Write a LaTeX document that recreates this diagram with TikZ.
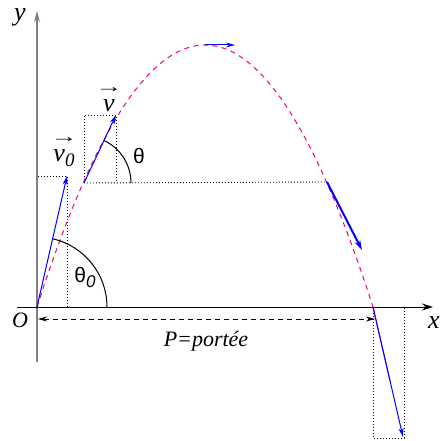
\documentclass[tikz,border=0pt]{standalone}
\usepackage{fontspec}
\setmainfont{Liberation Serif}
\newfontfamily\symfont{Liberation Sans}
\usetikzlibrary{arrows.meta}
\newcommand{\vecarrow}{{\upshape\fontsize{20}{20}\selectfont\scalebox{1.35}[0.85]{→}}}
\begin{document}
\begin{tikzpicture}[x=1pt,y=-1pt,
  axisy/.style={draw=black!50,line width=1.3pt,-{Stealth[length=11pt,width=6pt]}},
  axisx/.style={draw=black,line width=1pt,-{Stealth[length=11pt,width=7pt]}},
  vel/.style={draw=blue,line width=1pt,-{Stealth[length=9pt,width=5pt]}},
  velthick/.style={draw=blue,line width=2pt,-{Stealth[length=10pt,width=6pt]}},
  dots/.style={draw=black,line width=0.9pt,dash pattern=on 0.9pt off 2.1pt},
  traj/.style={draw=magenta,line width=1pt,dash pattern=on 5pt off 4.5pt},
  lbl/.style={font=\fontsize{22}{24}\selectfont\itshape,inner sep=0pt},
  vlbl/.style={font=\fontsize{26}{26}\selectfont\itshape,inner sep=0pt},
  ang/.style={font=\fontsize{21}{24}\symfont,inner sep=0pt},
  arcline/.style={draw=black,line width=1pt}]
\useasboundingbox (0,0) rectangle (445,441);
% key points
\coordinate (O) at (37,307);
\coordinate (Ytop) at (37,11);
\coordinate (Ybot) at (37,362);
\coordinate (Xl) at (17,307);
\coordinate (Xr) at (433,307);
\coordinate (V0) at (67,176);
\coordinate (A) at (84,183);
\coordinate (Atip) at (116,115);
\coordinate (B) at (205,45);
\coordinate (Btip) at (235,45);
\coordinate (C) at (327,182);
\coordinate (Ctip) at (362,250);
\coordinate (D) at (373,307);
\coordinate (Dtip) at (403,437);
\coordinate (Dmid) at (390,381);
\coordinate (R1) at (38,319);
\coordinate (R2) at (375,319);
\coordinate (T0) at (107,307);
\coordinate (T1) at (131,183);
% dotted component boxes
\draw[dots] (O) -- (37,176) -- (V0) -- (67,307);
\draw[dots] (A) -- (84,115) -- (Atip) -- (116,183);
\draw[dots] (A) -- (C);
\draw[dots] (D) -- (373,438) -- (404,438) -- (404,307) -- cycle;
% axes
\draw[axisy] (Ybot) -- (Ytop);
\draw[axisx] (Xl) -- (Xr);
% trajectory
\draw[traj] plot[domain=37:373,samples=120] (\x,{307-4*262*((\x-37)/336)*(1-(\x-37)/336)});
\draw[draw=magenta,line width=1pt] (D) -- (Dmid);
% angle arcs
\draw[arcline] (T0) arc[start angle=0,end angle=-77,radius=70];
\draw[arcline] (T1) arc[start angle=0,end angle=-65,radius=47];
% velocity vectors
\draw[vel] (O) -- (V0);
\draw[vel] (A) -- (Atip);
\draw[vel] (B) -- (Btip);
\draw[velthick] (C) -- (Ctip);
\draw[vel] (D) -- (Dtip);
% range
\draw[draw=black,line width=0.9pt,dash pattern=on 5pt off 4pt,{Stealth[length=9pt,width=5pt]}-{Stealth[length=9pt,width=5pt]}] (R1) -- (R2);
% labels
\node[vlbl] (ly) at (20,17) {y};
\node[vlbl] (lx) at (434,323) {x};
\node[lbl] (lO) at (20,320) {O};
\node[lbl] (lP) at (206,341) {P=portée};
\node[ang] (lt0) at (85,277) {θ\textit{\fontsize{17}{18}\selectfont\raisebox{-5pt}{0}}};
\node[ang] (lt) at (139,156) {θ};
\node[vlbl] (lv0) at (64,152) {\shortstack{\vecarrow\\[4pt]v\raisebox{-5pt}{\fontsize{19}{19}\selectfont 0}}};
\node[vlbl] (lv) at (109,100) {\shortstack{\vecarrow\\[4pt]v}};
\end{tikzpicture}
\end{document}
